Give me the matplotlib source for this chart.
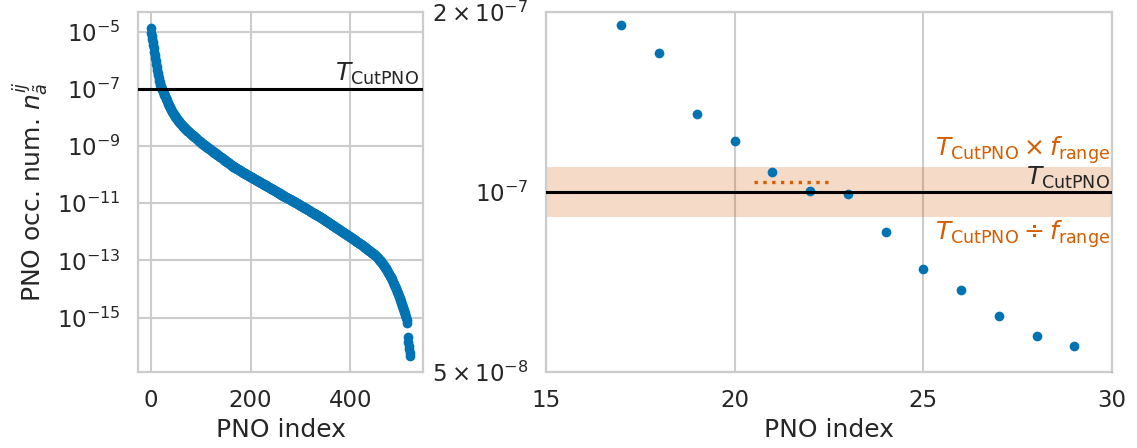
import numpy as np
import matplotlib
matplotlib.use("Agg")
import matplotlib.pyplot as plt
import matplotlib.transforms as mtransforms
from matplotlib.ticker import LogFormatterSciNotation, NullLocator, NullFormatter
import seaborn as sns

# log10 of the PNO occupation numbers, one value per PNO (index 0 .. 520)
log_occ = [
    -4.89, -5.05, -5.15, -5.25, -5.38, -5.48, -5.58, -5.70, -5.82, -5.93,
    -6.03, -6.13, -6.23, -6.33, -6.43, -6.53, -6.62, -6.721, -6.767, -6.870,
    -6.914, -6.967, -6.998, -7.004, -7.066, -7.129, -7.164, -7.208, -7.241, -7.258,
    -7.31, -7.35, -7.40, -7.44, -7.48, -7.52, -7.56, -7.60, -7.63, -7.67,
    -7.70, -7.74, -7.77, -7.80, -7.83, -7.86, -7.89, -7.92, -7.94, -7.97,
    -8.00, -8.02, -8.05, -8.07, -8.09, -8.11, -8.14, -8.16, -8.18, -8.20,
    -8.22, -8.24, -8.26, -8.28, -8.30, -8.32, -8.33, -8.35, -8.37, -8.39,
    -8.41, -8.42, -8.44, -8.46, -8.47, -8.49, -8.51, -8.52, -8.54, -8.55,
    -8.57, -8.58, -8.60, -8.61, -8.63, -8.64, -8.66, -8.67, -8.69, -8.70,
    -8.72, -8.73, -8.75, -8.76, -8.78, -8.79, -8.81, -8.82, -8.84, -8.85,
    -8.87, -8.89, -8.91, -8.92, -8.93, -8.94, -8.96, -8.97, -8.98, -9.00,
    -9.01, -9.02, -9.03, -9.05, -9.06, -9.07, -9.08, -9.10, -9.11, -9.12,
    -9.14, -9.15, -9.16, -9.17, -9.19, -9.20, -9.21, -9.23, -9.24, -9.25,
    -9.26, -9.28, -9.29, -9.30, -9.31, -9.33, -9.34, -9.35, -9.37, -9.38,
    -9.39, -9.40, -9.42, -9.43, -9.44, -9.46, -9.47, -9.48, -9.49, -9.51,
    -9.52, -9.53, -9.55, -9.56, -9.57, -9.59, -9.60, -9.61, -9.63, -9.64,
    -9.65, -9.67, -9.68, -9.69, -9.71, -9.72, -9.73, -9.74, -9.75, -9.76,
    -9.77, -9.78, -9.79, -9.80, -9.81, -9.82, -9.83, -9.84, -9.85, -9.86,
    -9.87, -9.89, -9.90, -9.91, -9.92, -9.93, -9.94, -9.95, -9.96, -9.97,
    -9.98, -9.99, -10.00, -10.01, -10.02, -10.03, -10.04, -10.05, -10.06, -10.07,
    -10.08, -10.09, -10.10, -10.11, -10.12, -10.13, -10.14, -10.15, -10.16, -10.17,
    -10.18, -10.19, -10.20, -10.21, -10.22, -10.23, -10.24, -10.25, -10.26, -10.27,
    -10.28, -10.29, -10.30, -10.31, -10.32, -10.33, -10.34, -10.35, -10.36, -10.37,
    -10.38, -10.39, -10.40, -10.41, -10.42, -10.43, -10.44, -10.45, -10.46, -10.47,
    -10.48, -10.49, -10.50, -10.51, -10.52, -10.53, -10.54, -10.55, -10.56, -10.57,
    -10.58, -10.59, -10.60, -10.61, -10.62, -10.63, -10.64, -10.65, -10.66, -10.67,
    -10.68, -10.69, -10.70, -10.71, -10.72, -10.73, -10.74, -10.75, -10.76, -10.77,
    -10.78, -10.79, -10.80, -10.81, -10.82, -10.83, -10.83, -10.84, -10.85, -10.86,
    -10.87, -10.88, -10.89, -10.90, -10.91, -10.92, -10.93, -10.94, -10.95, -10.96,
    -10.97, -10.98, -10.99, -11.00, -11.01, -11.02, -11.03, -11.04, -11.05, -11.06,
    -11.07, -11.08, -11.09, -11.10, -11.11, -11.12, -11.13, -11.14, -11.15, -11.16,
    -11.17, -11.18, -11.19, -11.20, -11.21, -11.22, -11.23, -11.24, -11.25, -11.26,
    -11.27, -11.29, -11.30, -11.31, -11.32, -11.33, -11.34, -11.35, -11.36, -11.37,
    -11.38, -11.39, -11.40, -11.41, -11.42, -11.43, -11.44, -11.45, -11.46, -11.47,
    -11.48, -11.49, -11.50, -11.52, -11.53, -11.54, -11.55, -11.56, -11.57, -11.59,
    -11.60, -11.61, -11.62, -11.63, -11.64, -11.66, -11.67, -11.68, -11.69, -11.70,
    -11.71, -11.73, -11.74, -11.75, -11.76, -11.77, -11.78, -11.80, -11.81, -11.82,
    -11.83, -11.84, -11.85, -11.87, -11.88, -11.89, -11.90, -11.91, -11.92, -11.94,
    -11.95, -11.96, -11.97, -11.98, -11.99, -12.01, -12.02, -12.03, -12.04, -12.05,
    -12.06, -12.08, -12.09, -12.10, -12.11, -12.12, -12.13, -12.15, -12.16, -12.17,
    -12.18, -12.19, -12.20, -12.22, -12.23, -12.24, -12.25, -12.26, -12.28, -12.29,
    -12.30, -12.31, -12.32, -12.34, -12.35, -12.36, -12.37, -12.38, -12.40, -12.41,
    -12.42, -12.43, -12.44, -12.46, -12.47, -12.48, -12.49, -12.51, -12.52, -12.54,
    -12.55, -12.56, -12.58, -12.59, -12.60, -12.62, -12.63, -12.64, -12.66, -12.67,
    -12.68, -12.70, -12.71, -12.73, -12.74, -12.75, -12.77, -12.78, -12.79, -12.81,
    -12.82, -12.84, -12.85, -12.87, -12.89, -12.91, -12.93, -12.95, -12.97, -12.99,
    -13.01, -13.03, -13.05, -13.08, -13.10, -13.12, -13.15, -13.17, -13.20, -13.23,
    -13.25, -13.28, -13.31, -13.34, -13.37, -13.40, -13.43, -13.46, -13.49, -13.53,
    -13.56, -13.59, -13.63, -13.66, -13.70, -13.74, -13.77, -13.81, -13.85, -13.89,
    -13.93, -13.97, -14.01, -14.06, -14.10, -14.15, -14.19, -14.24, -14.28, -14.33,
    -14.38, -14.43, -14.48, -14.53, -14.58, -14.63, -14.69, -14.74, -14.80, -14.85,
    -14.91, -14.97, -15.03, -15.10, -15.18, -15.69, -15.85, -15.98, -16.10, -16.22,
    -16.33,
]

# truncation threshold, tolerance factor and the level between kept/dropped PNOs
T_CUT = 1e-7
F_RANGE = 1.1
CUT_LEVEL = 1.04e-7
CUT_SPAN = [20.5, 22.5]

left_xticks = [0, 200, 400]
left_yticks = [1e-15, 1e-13, 1e-11, 1e-9, 1e-7, 1e-5]
right_xticks = [15, 20, 25, 30]
right_yticks = [5e-8, 1e-7, 2e-7]

occ = np.power(10.0, np.array(log_occ))
pno_index = np.arange(len(occ))

sns.set_theme(style="whitegrid", context="talk", palette="colorblind")
plt.rcParams["font.family"] = ["DejaVu Sans"]

BLUE = "#0173b2"
ORANGE = "#d55e00"

fig = plt.figure(figsize=(11.37, 4.48), dpi=100)
ax1 = fig.add_axes([0.1214, 0.1696, 0.2506, 0.8034])
ax2 = fig.add_axes([0.4802, 0.1696, 0.4978, 0.8034])

for ax in (ax1, ax2):
    for s in ax.spines.values():
        s.set_color("#cccccc")
        s.set_linewidth(1.6)
    ax.grid(color="#cccccc", linewidth=1.5)

# full spectrum
ax1.plot(pno_index, occ, "o", ms=7, mew=0, color=BLUE, zorder=3)
ax1.set_yscale("log")
ax1.axhline(T_CUT, color="black", lw=2.2, zorder=4)
ax1.set_xticks(left_xticks)
ax1.set_yticks(left_yticks)
ax1.yaxis.set_minor_locator(NullLocator())
ax1.yaxis.set_minor_formatter(NullFormatter())
ax1.set_xlabel("PNO index")
ax1.set_ylabel(r"PNO occ. num. $n_{\tilde{a}}^{ij}$")
tr1 = mtransforms.blended_transform_factory(ax1.transAxes, ax1.transData)
ax1.text(0.987, T_CUT * 1.15, r"$T_\mathrm{CutPNO}$", transform=tr1,
         ha="right", va="bottom", fontsize=18, color="#262626")

# close-up around the threshold
ax2.axhspan(T_CUT / F_RANGE, T_CUT * F_RANGE, color=ORANGE, alpha=0.22, lw=0, zorder=1)
ax2.plot(pno_index, occ, "o", ms=7, mew=0, color=BLUE, zorder=3)
ax2.axhline(T_CUT, color="black", lw=2.2, zorder=4)
ax2.plot(CUT_SPAN, [CUT_LEVEL, CUT_LEVEL], ls=":", color=ORANGE, lw=2.4, zorder=3)
ax2.set_yscale("log")
ax2.set_xlim(right_xticks[0], right_xticks[-1])
ax2.set_ylim(right_yticks[0] * 0.9999, right_yticks[-1] * 1.0001)
ax2.set_xticks(right_xticks)
ax2.set_yticks(right_yticks)
ax2.yaxis.set_major_formatter(
    LogFormatterSciNotation(labelOnlyBase=False, minor_thresholds=(2.0, 0.8)))
ax2.yaxis.set_minor_locator(NullLocator())
ax2.yaxis.set_minor_formatter(NullFormatter())
ax2.set_xlabel("PNO index")
tr2 = mtransforms.blended_transform_factory(ax2.transAxes, ax2.transData)
ax2.text(0.996, T_CUT * 1.004, r"$T_\mathrm{CutPNO}$", transform=tr2,
         ha="right", va="bottom", fontsize=18, color="#262626")
ax2.text(0.996, T_CUT * F_RANGE * 1.004, r"$T_\mathrm{CutPNO} \times f_\mathrm{range}$",
         transform=tr2, ha="right", va="bottom", fontsize=18, color=ORANGE)
ax2.text(0.996, T_CUT / F_RANGE / 1.004, r"$T_\mathrm{CutPNO} \div f_\mathrm{range}$",
         transform=tr2, ha="right", va="top", fontsize=18, color=ORANGE)

fig.savefig("out.png", dpi=100)
